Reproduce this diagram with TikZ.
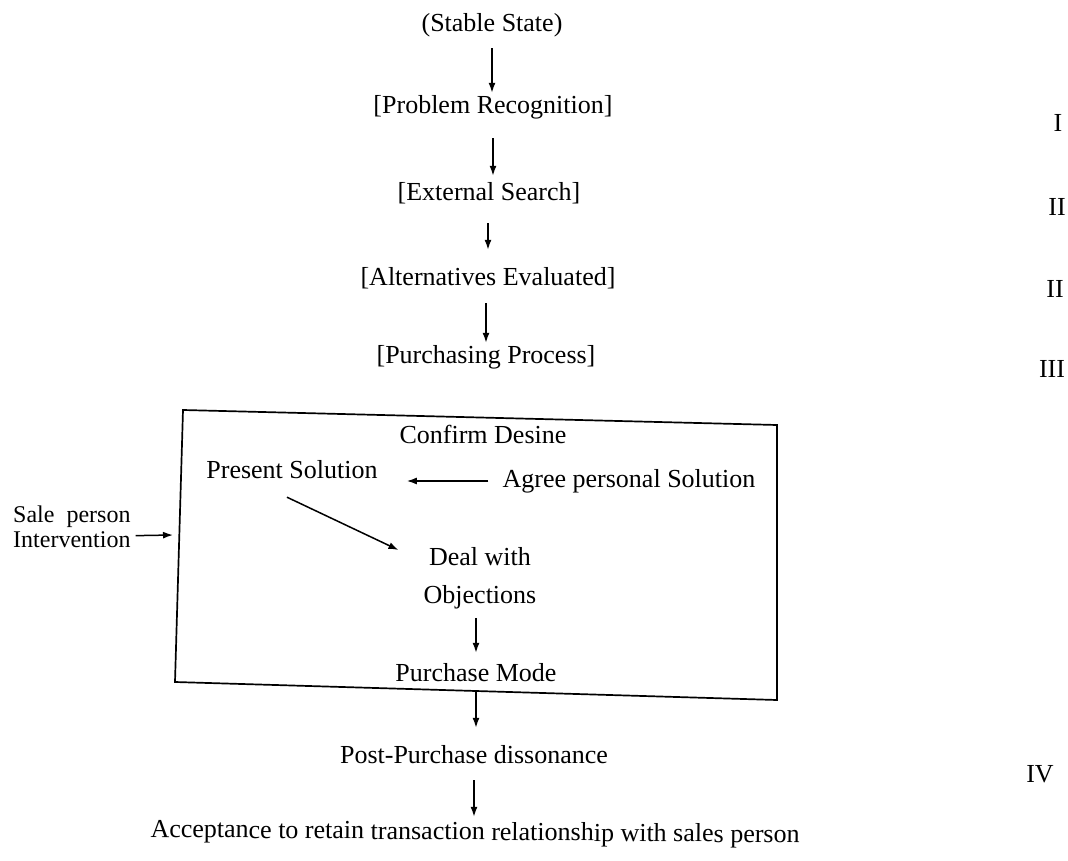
\documentclass[tikz,border=0pt]{standalone}
\usepackage{fontspec}
\setmainfont{Liberation Serif}
\usetikzlibrary{arrows.meta}
\begin{document}
\begin{tikzpicture}[x=1pt,y=-1pt,
  lbl/.style={inner sep=0pt, text height=18pt, text depth=6pt, anchor=base,
    font=\fontsize{26}{30}\selectfont},
  multi/.style={inner sep=0pt, align=center, font=\fontsize{26}{38}\selectfont},
  arr/.style={line width=1.5pt, -{Latex[length=10pt,width=7pt]}},
  frame/.style={line width=1.7pt, line join=miter}]
\useasboundingbox (0,0) rectangle (1068,861);

% main sequence of stages
\node[lbl] (stable) at (492,32)  {(Stable State)};
\node[lbl] (prob)   at (493,114) {[Problem Recognition]};
\node[lbl] (ext)    at (489,201) {[External Search]};
\node[lbl] (alt)    at (488,285) {[Alternatives Evaluated]};
\node[lbl] (purch)  at (486,363) {[Purchasing Process]};

% stage numbers on the right
\node[lbl] (r1) at (1058,132) {I};
\node[lbl] (r2) at (1057,215) {II};
\node[lbl] (r3) at (1055,297) {II};
\node[lbl] (r4) at (1052,377) {III};
\node[lbl] (r5) at (1040,782) {IV};

% sales interaction frame
\coordinate (tl) at (183,410);
\coordinate (tr) at (777,425);
\coordinate (br) at (777,700);
\coordinate (bl) at (175,682);
\draw[frame] (tl) -- (tr) -- (br) -- (bl) -- cycle;

\node[lbl] (confirm) at (483,443) {Confirm Desine};
\node[lbl] (present) at (292,478) {Present Solution};
\node[lbl] (agree)   at (629,487) {Agree personal Solution};
\node[multi, anchor=north] (deal) at (480,547) {Deal with\\Objections};
\node[lbl] (mode)    at (476,681) {Purchase Mode};

% outside the frame
\node[inner sep=0pt, align=left, anchor=north west,
      font=\fontsize{24}{25}\selectfont] (sale) at (13,506)
      {Sale\hspace{0.5em}person\\Intervention};
\coordinate (boxin) at (173,535);

\node[lbl] (post)   at (474,763) {Post-Purchase dissonance};
\node[lbl, rotate=-0.5] (accept) at (475,840)
      {Acceptance to retain transaction relationship with sales person};

% connectors of the main sequence
\draw[arr, shorten <=10pt, shorten >=3pt] (stable.south) -- (stable.south |- prob.north);
\draw[arr, shorten <=18pt, shorten >=7pt] (prob.south) -- (prob.south |- ext.north);
\draw[arr, shorten <=16pt, shorten >=17pt] (alt.north |- ext.south) -- (alt.north);
\draw[arr, shorten <=12pt, shorten >=2pt] (purch.north |- alt.south) -- (purch.north);

% connectors inside the frame
\draw[arr, shorten <=14pt, shorten >=29pt] (agree.west) -- (agree.west -| present.east);
\draw[arr] ([shift={(-5pt,-13pt)}]present.south) -- ([shift={(-25pt,-3pt)}]deal.north west);
\draw[arr, shorten <=9pt, shorten >=10pt] (mode.north |- deal.south) -- (mode.north);

% connectors below the frame
\draw[arr, shorten <=3pt, shorten >=17pt] (mode.south) -- (mode.south |- post.north);
\draw[arr, shorten <=11pt, shorten >=5pt] (post.south) -- (post.south |- accept.north);

% intervention arrow into the frame
\draw[arr] ([shift={(5pt,-8.5pt)}]sale.east) -- (boxin);
\end{tikzpicture}
\end{document}
